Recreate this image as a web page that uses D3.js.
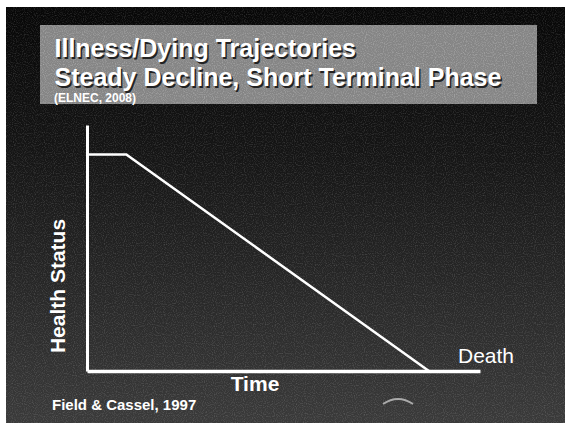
<!DOCTYPE html>
<html lang="en">
<head>
<meta charset="UTF-8">
<title>Illness/Dying Trajectories</title>
<style>
  html, body { margin: 0; padding: 0; background: #fff; }
  svg { display: block; }
  text { font-family: "Liberation Sans", Arial, sans-serif; fill: #fff; }
  .title { font-weight: bold; }
</style>
</head>
<body>
<div id="chart"></div>
<script src="https://d3js.org/d3.v7.min.js"></script>
<script>
  // trajectory points: time (%) vs health status (%)
  var timeValues = [0, 10, 87];
  var healthValues = [88, 88, 0];
  var titleLines = ["Illness/Dying Trajectories", "Steady Decline, Short Terminal Phase"];
  var sourceLabel = "(ELNEC, 2008)";
  var xLabel = "Time", yLabel = "Health Status", endLabel = "Death";
  var citation = "Field & Cassel, 1997";

  var W = 565, H = 423;
  var svg = d3.select("#chart").append("svg")
    .attr("width", W).attr("height", H);

  var defs = svg.append("defs");
  var grad = defs.append("linearGradient").attr("id", "bg")
    .attr("x1", 0).attr("y1", 0).attr("x2", 0).attr("y2", 1);
  grad.append("stop").attr("offset", "0%").attr("stop-color", "#070707");
  grad.append("stop").attr("offset", "35%").attr("stop-color", "#151515");
  grad.append("stop").attr("offset", "100%").attr("stop-color", "#3a3a3a");

  // grainy scan texture
  var f = defs.append("filter").attr("id", "grain");
  f.append("feTurbulence").attr("type", "fractalNoise")
    .attr("baseFrequency", 0.9).attr("numOctaves", 1).attr("seed", 3);
  f.append("feColorMatrix").attr("type", "matrix")
    .attr("values", "0 0 0 0 1  0 0 0 0 1  0 0 0 0 1  0 0 0 1.2 -0.55");
  f.append("feComposite").attr("in2", "SourceGraphic").attr("operator", "in");

  // paper edges
  svg.append("rect").attr("width", W).attr("height", H).attr("fill", "#fff");
  svg.append("rect").attr("x", 6).attr("y", 7).attr("width", W - 6).attr("height", H - 7)
    .attr("fill", "url(#bg)");
  svg.append("rect").attr("x", 6).attr("y", 7).attr("width", W - 6).attr("height", H - 7)
    .attr("fill", "#fff").attr("opacity", 0.35).attr("filter", "url(#grain)");

  // title box
  svg.append("rect").attr("x", 40).attr("y", 25).attr("width", 497).attr("height", 79)
    .attr("fill", "#858585");
  svg.append("rect").attr("x", 40).attr("y", 25).attr("width", 497).attr("height", 79)
    .attr("fill", "#000").attr("opacity", 0.6).attr("filter", "url(#grain)");

  var titleY = [57, 86];
  titleLines.forEach(function(t, i) {
    svg.append("text").attr("class", "title")
      .attr("x", 56).attr("y", titleY[i] + 1.5)
      .attr("font-size", 25).style("fill", "#222").text(t);
    svg.append("text").attr("class", "title")
      .attr("x", 54.5).attr("y", titleY[i])
      .attr("font-size", 25).text(t);
  });
  svg.append("text").attr("class", "title")
    .attr("x", 54).attr("y", 102).attr("font-size", 12).text(sourceLabel);

  // chart area
  var x = d3.scaleLinear().domain([0, 100]).range([87, 480]);
  var y = d3.scaleLinear().domain([0, 100]).range([371, 125]);

  var xAxis = d3.axisBottom(x).tickValues([]).tickSizeOuter(0);
  var yAxis = d3.axisLeft(y).tickValues([]).tickSizeOuter(0);
  svg.append("g").attr("transform", "translate(0," + y(0) + ")").call(xAxis)
    .select(".domain").attr("stroke", "#fff").attr("stroke-width", 3.5);
  svg.append("g").attr("transform", "translate(" + x(0) + ",0)").call(yAxis)
    .select(".domain").attr("stroke", "#fff").attr("stroke-width", 3);

  var pts = timeValues.map(function(t, i) { return [t, healthValues[i]]; });
  svg.append("path").datum(pts)
    .attr("fill", "none").attr("stroke", "#fff").attr("stroke-width", 2.5)
    .attr("d", d3.line().x(function(d) { return x(d[0]); }).y(function(d) { return y(d[1]); }));

  svg.append("text").attr("x", 458).attr("y", 363)
    .attr("font-size", 21).text(endLabel);
  svg.append("text").attr("x", 255).attr("y", 391)
    .attr("text-anchor", "middle").attr("font-size", 21).attr("font-weight", "bold")
    .text(xLabel);
  svg.append("text")
    .attr("transform", "translate(65,286) rotate(-90)")
    .attr("text-anchor", "middle").attr("font-size", 21).attr("font-weight", "bold")
    .text(yLabel);
  svg.append("text").attr("x", 52).attr("y", 410)
    .attr("font-size", 15).attr("font-weight", "bold").text(citation);

  // faint logo mark, bottom right
  svg.append("path")
    .attr("d", "M383,404 Q398,394 413,404")
    .attr("fill", "none").attr("stroke", "#aaa").attr("stroke-width", 2);
</script>
</body>
</html>
